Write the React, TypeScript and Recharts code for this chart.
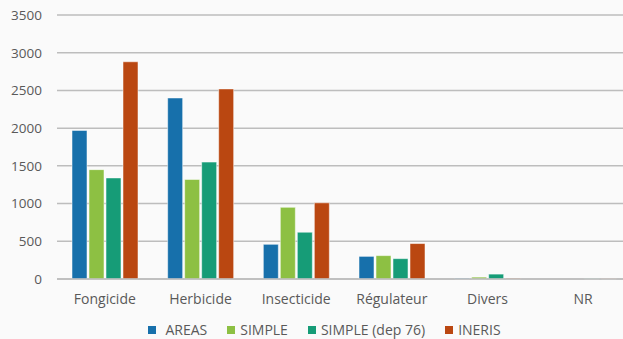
import React from "react";
import { BarChart, Bar, XAxis, YAxis, CartesianGrid, Legend } from "recharts";

const categories = ["Fongicide", "Herbicide", "Insecticide", "Régulateur", "Divers", "NR"];
const areas = [1970, 2400, 460, 300, 10, 0];
const simple = [1450, 1320, 950, 310, 25, 0];
const simpleDep76 = [1340, 1550, 620, 270, 65, 6];
const ineris = [2880, 2520, 1010, 470, 10, 6];
const yTicks = [0, 500, 1000, 1500, 2000, 2500, 3000, 3500];

const SERIES = [
  { key: "areas", name: "AREAS", color: "#1770AB" },
  { key: "simple", name: "SIMPLE", color: "#8DC043" },
  { key: "simpleDep76", name: "SIMPLE (dep 76)", color: "#169C77" },
  { key: "ineris", name: "INERIS", color: "#BA4711" },
];

const data = categories.map((name, i) => ({
  name,
  areas: areas[i],
  simple: simple[i],
  simpleDep76: simpleDep76[i],
  ineris: ineris[i],
}));

const FONT = "'Open Sans', 'DejaVu Sans', sans-serif";

// légende façon Excel : petits carrés + texte
const LegendContent = () => (
  <div
    style={{
      display: "flex",
      justifyContent: "center",
      alignItems: "center",
      fontFamily: FONT,
      fontSize: 14,
      color: "#595959",
      paddingTop: 9,
      paddingLeft: 18,
    }}
  >
    {SERIES.map((s, i) => (
      <div key={s.key} style={{ display: "flex", alignItems: "center", margin: "0 10px" }}>
        <span
          style={{
            width: 8,
            height: 8,
            background: s.color,
            marginRight: i === 0 ? 9 : 5,
            display: "inline-block",
          }}
        />
        <span>{s.name}</span>
      </div>
    ))}
  </div>
);

export default function App() {
  return (
    <div
      style={{
        position: "absolute",
        left: 0,
        top: 0,
        width: 623,
        height: 339,
        overflow: "hidden",
        background: "#fafafa",
      }}
    >
      <BarChart
        width={640}
        height={339}
        data={data}
        margin={{ top: 15, right: 9, bottom: 0, left: 0 }}
        barSize={15}
        barGap={2}
      >
        <CartesianGrid vertical={false} stroke="#bdbdbd" strokeWidth={1.5} />
        <XAxis
          dataKey="name"
          height={32}
          axisLine={{ stroke: "#bdbdbd", strokeWidth: 1.5 }}
          tickLine={false}
          tickSize={0}
          tickMargin={15}
          tick={{ fontSize: 14, fill: "#595959", fontFamily: FONT }}
          interval={0}
        />
        <YAxis
          width={57}
          domain={[0, 3500]}
          ticks={yTicks}
          axisLine={false}
          tickLine={false}
          tickSize={0}
          tickMargin={15}
          tick={{ fontSize: 13.5, fill: "#595959", fontFamily: FONT }}
        />
        <Legend verticalAlign="bottom" height={28} content={<LegendContent />} />
        {SERIES.map((s) => (
          <Bar
            key={s.key}
            dataKey={s.key}
            name={s.name}
            fill={s.color}
            stroke="#ffffff"
            strokeOpacity={0.5}
            strokeWidth={1}
            isAnimationActive={false}
          />
        ))}
      </BarChart>
    </div>
  );
}
